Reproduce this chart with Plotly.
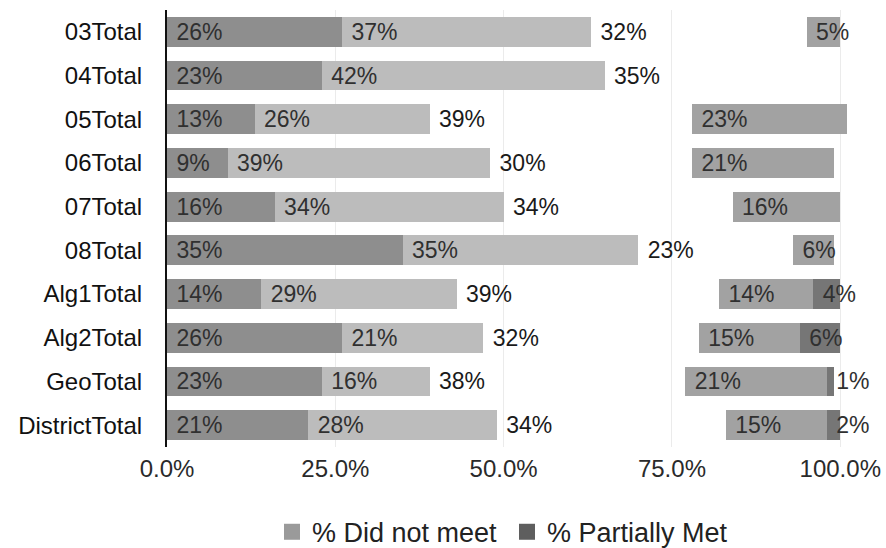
import plotly.graph_objects as go

categories = ["03Total", "04Total", "05Total", "06Total", "07Total", "08Total",
              "Alg1Total", "Alg2Total", "GeoTotal", "DistrictTotal"]
did_not_meet = [26, 23, 13, 9, 16, 35, 14, 26, 23, 21]
partially_met = [37, 42, 26, 39, 34, 35, 29, 21, 16, 28]
met = [32, 35, 39, 30, 34, 23, 39, 32, 38, 34]
exceeded = [5, 0, 23, 21, 16, 6, 14, 15, 21, 15]
fifth = [0, 0, 0, 0, 0, 0, 4, 6, 1, 2]
tick_vals = [0, 25, 50, 75, 100]
tick_text = [f"{v:.1f}%" for v in tick_vals]
legend_names = ["% Did not meet", "% Partially Met"]
legend_colors = ["#9a9a9a", "#5e5e5e"]

FONT = "Liberation Sans, Arial, Helvetica, sans-serif"

series = [
    ("seg1", did_not_meet, "#8e8e8e", "#303030"),
    ("seg2", partially_met, "#bcbcbc", "#303030"),
    ("seg3", met, "rgba(255,255,255,0)", "#1a1a1a"),
    ("seg4", exceeded, "#a2a2a2", "#303030"),
    ("seg5", fifth, "#767676", "#303030"),
]

fig = go.Figure()
for name, vals, color, tcolor in series:
    fig.add_trace(go.Bar(
        y=categories, x=vals, orientation="h", name=name,
        marker=dict(color=color, line=dict(width=0)),
        text=[f"\u00a0{v}%" if v > 0 else "" for v in vals],
        textposition="inside", insidetextanchor="start", textangle=0,
        constraintext="none", cliponaxis=False,
        textfont=dict(family=FONT, size=23, color=tcolor),
        showlegend=False,
        hoverinfo="skip",
    ))

for lname, lcolor in zip(legend_names, legend_colors):
    fig.add_trace(go.Scatter(
        x=[None], y=[None], mode="markers", name=lname,
        marker=dict(symbol="square", size=22, color=lcolor),
        showlegend=True, hoverinfo="skip",
    ))

fig.update_layout(
    barmode="stack",
    bargap=0.32,
    width=886, height=548,
    margin=dict(l=167, r=39, t=10, b=101, autoexpand=False),
    paper_bgcolor="white", plot_bgcolor="white",
    font=dict(family=FONT, size=24, color="#222"),
    xaxis=dict(range=[0, 101], tickvals=tick_vals, ticktext=tick_text,
               showgrid=True, gridcolor="#ebebeb", gridwidth=1, zeroline=False,
               showline=False, ticks="", tickfont=dict(family=FONT, size=24, color="#2a2a2a"),
               ticklabelstandoff=5),
    yaxis=dict(autorange="reversed", showline=True, linecolor="#111", linewidth=2,
               ticks="", tickfont=dict(family=FONT, size=24, color="#111"),
               ticklabelstandoff=18),
    legend=dict(orientation="h", x=0.5, xanchor="center", y=-0.195, yanchor="middle",
                font=dict(family=FONT, size=27, color="#222"), entrywidth=190,
                traceorder="normal", itemsizing="trace"),
)

fig.write_html("out.html")
